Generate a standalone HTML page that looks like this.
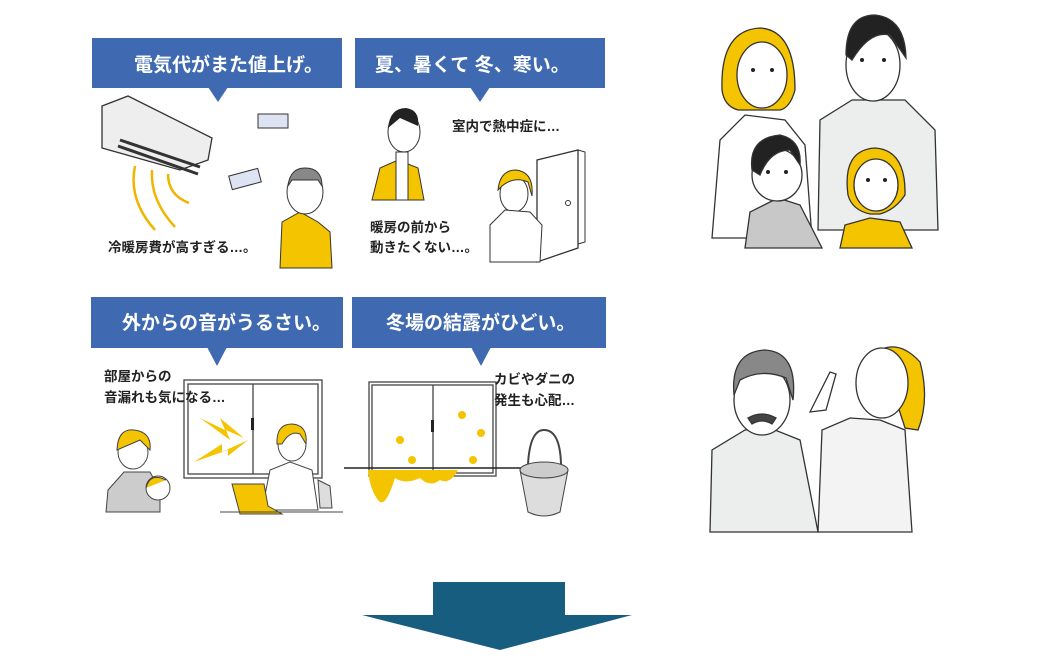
<!DOCTYPE html>
<html><head><meta charset="utf-8"><style>
html,body{margin:0;padding:0;background:#fff;}
svg{display:block;}
text{font-family:"Liberation Sans","Noto Sans CJK JP",sans-serif;font-weight:bold;}
</style></head><body>
<svg width="1042" height="662" viewBox="0 0 1042 662" xmlns="http://www.w3.org/2000/svg">
<g fill="#3f69b1">
<rect x="92" y="38" width="250" height="50"/><polygon points="208,87 228,87 218,102"/>
<rect x="355" y="38" width="250" height="50"/><polygon points="470,87 490,87 480,102"/>
<rect x="91" y="297" width="252" height="51"/><polygon points="207,347 227,347 217,366"/>
<rect x="352" y="297" width="254" height="51"/><polygon points="471,347 491,347 481,366"/>
</g>
<g fill="#fff" font-size="19">
<text x="134" y="71">電気代がまた値上げ。</text>
<text x="375" y="71">夏、暑くて  冬、寒い。</text>
<text x="122" y="329">外からの音がうるさい。</text>
<text x="386" y="329">冬場の結露がひどい。</text>
</g>
<!-- AC -->
<g stroke="#333" stroke-width="1.3" fill="#fff">
<path d="M102,106 L128,96 L212,138 L208,160 L180,170 L102,148 Z" fill="#eee"/>
<path d="M118,146 L198,174" stroke-width="3"/><path d="M120,140 L200,167" stroke-width="3"/>
</g>
<g stroke="#f1b500" stroke-width="2.5" fill="none">
<path d="M135,166 Q128,200 155,230"/><path d="M152,170 Q150,200 175,227"/><path d="M168,174 Q168,195 189,203"/>
</g>
<g stroke="#333" fill="#dde3f2" stroke-width="1"><rect x="258" y="114" width="30" height="14"/><rect x="230" y="172" width="30" height="14" transform="rotate(-15 245 179)"/></g>
<!-- old man -->
<path d="M280,268 L282,222 L300,212 L318,222 L330,232 L332,268 Z" fill="#f5c400" stroke="#333"/>
<ellipse cx="305" cy="192" rx="18" ry="22" fill="#fff" stroke="#333"/>
<path d="M288,186 Q290,168 305,168 Q322,168 322,186 L318,180 L292,180 Z" fill="#888" stroke="#333"/>
<!-- sweaty man -->
<path d="M372,200 L380,168 L398,160 L418,168 L424,200 Z" fill="#f5c400" stroke="#333"/>
<ellipse cx="404" cy="132" rx="16" ry="20" fill="#fff" stroke="#333"/>
<path d="M388,128 Q390,108 406,108 Q420,110 418,126 L400,118 Z" fill="#222"/>
<rect x="396" y="152" width="12" height="48" fill="#fff" stroke="#333"/>
<!-- door -->
<path d="M537,160 L578,150 L578,248 L537,262 Z" fill="#fff" stroke="#333" stroke-width="1.3"/>
<path d="M578,150 L585,152 L585,242 L578,244" fill="none" stroke="#333"/>
<circle cx="568" cy="203" r="2.5" fill="none" stroke="#333"/>
<!-- cold woman -->
<ellipse cx="514" cy="194" rx="14" ry="18" fill="#fff" stroke="#333"/>
<path d="M498,190 Q500,170 516,170 Q534,172 532,196 L528,182 Q514,176 502,186 Z" fill="#f5c400" stroke="#333"/>
<path d="M490,262 L490,225 L505,210 L530,212 L542,225 L540,262 Z" fill="#fff" stroke="#333"/>
<!-- windows -->
<g fill="#fff" stroke="#444" stroke-width="1.3">
<rect x="184" y="380" width="138" height="98"/><rect x="188" y="384" width="130" height="90"/>
<line x1="253" y1="384" x2="253" y2="474"/>
<rect x="369" y="382" width="127" height="94"/><rect x="372" y="385" width="121" height="88"/>
<line x1="433" y1="385" x2="433" y2="473"/>
</g>
<rect x="251" y="418" width="3" height="12" fill="#222"/><rect x="431" y="420" width="3" height="12" fill="#222"/>
<line x1="344" y1="468" x2="524" y2="468" stroke="#222" stroke-width="1.5"/>
<g fill="#f5c400">
<polygon points="200,418 225,430 220,418 244,438 226,430 230,440"/>
<polygon points="194,462 222,444 222,452 248,440 228,456 228,450"/>
<path d="M368,470 L458,470 Q450,485 440,480 Q430,488 420,478 Q405,485 395,478 Q385,510 378,500 Q370,490 368,470Z"/>
<circle cx="400" cy="440" r="4"/><circle cx="412" cy="460" r="4"/><circle cx="462" cy="415" r="4"/><circle cx="481" cy="433" r="4"/><circle cx="473" cy="460" r="4"/>
</g>
<!-- bucket -->
<path d="M520,470 L528,512 Q544,520 560,512 L568,470 Z" fill="#ddd" stroke="#444"/>
<ellipse cx="544" cy="470" rx="24" ry="8" fill="#ccc" stroke="#444"/>
<path d="M528,464 Q530,430 544,430 Q560,430 561,464" fill="none" stroke="#444" stroke-width="2"/>
<!-- mother & baby -->
<path d="M106,512 L108,490 L124,472 L150,472 L160,490 L160,512 Z" fill="#ccc" stroke="#444"/>
<ellipse cx="133" cy="452" rx="15" ry="17" fill="#fff" stroke="#444"/>
<path d="M117,450 Q118,428 134,430 Q152,432 150,450 L140,440 Z" fill="#f5c400" stroke="#444"/>
<circle cx="158" cy="488" r="12" fill="#fff" stroke="#444"/>
<path d="M146,488 Q150,472 166,480" fill="#f5c400" stroke="#444"/>
<!-- headset woman -->
<path d="M262,510 L270,470 L290,462 L312,470 L318,510 Z" fill="#fff" stroke="#444"/>
<path d="M318,480 L330,486 L332,508 L320,508Z" fill="#ddd" stroke="#444"/>
<ellipse cx="292" cy="444" rx="14" ry="17" fill="#fff" stroke="#444"/>
<path d="M277,444 Q276,424 292,424 Q308,425 306,444 L300,434 Q290,430 282,444 Z" fill="#f5c400" stroke="#444"/>
<path d="M232,484 L264,484 L268,506 L282,514 L240,514 Z" fill="#f5c400" stroke="#444"/>
<line x1="220" y1="512" x2="343" y2="512" stroke="#444"/>
<!-- labels on top -->
<g fill="#222" font-size="13.5">
<text x="108" y="252">冷暖房費が高すぎる…。</text>
<text x="452" y="131">室内で熱中症に…</text>
<text x="370" y="232">暖房の前から</text><text x="370" y="252">動きたくない…。</text>
<text x="104" y="381">部屋からの</text><text x="104" y="402">音漏れも気になる…</text>
<text x="494" y="384">カビやダニの</text><text x="494" y="405">発生も心配…</text>
</g>
<!-- arrow -->
<path d="M433,582 L565,582 L565,615 L632,615 L500,650 L362,615 L433,615 Z" fill="#175d80"/>
<!-- family -->
<g stroke="#333" stroke-width="1.3">
<path d="M712,238 L720,140 L745,115 L785,120 L805,145 L812,238 Z" fill="#fff"/>
<path d="M722,90 Q720,30 760,28 Q795,30 795,90 Q790,108 780,110 L738,110 Q724,106 722,90Z" fill="#f5c400"/>
<ellipse cx="762" cy="75" rx="25" ry="33" fill="#fff"/>
<path d="M818,230 L820,120 L852,100 L905,100 L935,130 L938,230 Z" fill="#eceded"/>
<ellipse cx="873" cy="65" rx="27" ry="36" fill="#fff"/>
<path d="M846,55 Q846,15 875,15 Q905,18 906,58 L890,35 Q870,30 852,60 Z" fill="#222"/>
<path d="M745,248 L750,212 L778,198 L800,205 L822,248 Z" fill="#c8c8c8"/>
<ellipse cx="777" cy="175" rx="25" ry="26" fill="#fff"/>
<path d="M752,170 Q748,138 780,135 Q802,140 800,165 L790,150 Q770,150 760,175 Z" fill="#222"/>
<path d="M840,248 L845,225 L870,218 L900,222 L912,248 Z" fill="#f5c400"/>
<path d="M848,195 Q842,150 875,148 Q906,150 905,195 Q895,210 880,214 L870,214 Q852,210 848,195Z" fill="#f5c400"/>
<ellipse cx="876" cy="185" rx="22" ry="26" fill="#fff"/>
</g>
<g fill="#222">
<circle cx="753" cy="70" r="2"/><circle cx="772" cy="70" r="2"/>
<circle cx="862" cy="60" r="2"/><circle cx="884" cy="60" r="2"/>
<circle cx="768" cy="172" r="2"/><circle cx="786" cy="172" r="2"/>
<circle cx="868" cy="180" r="2"/><circle cx="885" cy="180" r="2"/>
<circle cx="752" cy="398" r="2"/><circle cx="773" cy="398" r="2"/>
<circle cx="872" cy="378" r="2"/><circle cx="891" cy="378" r="2"/>
</g>
<!-- couple -->
<g stroke="#333" stroke-width="1.3">
<path d="M710,532 L712,450 L745,430 L770,428 L800,440 L818,532 Z" fill="#eceded"/>
<ellipse cx="762" cy="400" rx="28" ry="35" fill="#fff"/>
<path d="M734,395 Q730,352 765,350 Q798,352 793,400 L786,378 Q762,368 740,380 Z" fill="#888"/>
<path d="M818,532 L822,430 L850,418 L880,420 L905,430 L912,532 Z" fill="#f3f3f3"/>
<path d="M880,350 Q900,340 920,362 Q930,400 918,430 L905,428 Z" fill="#f5c400"/>
<ellipse cx="882" cy="383" rx="26" ry="35" fill="#fff"/>
<path d="M810,412 L830,372 L836,374 L826,410 Z" fill="#fff"/>
<path d="M748,418 Q762,410 776,418 L772,424 Q762,418 752,424 Z" fill="#444"/>
</g>
</svg>
</body></html>
